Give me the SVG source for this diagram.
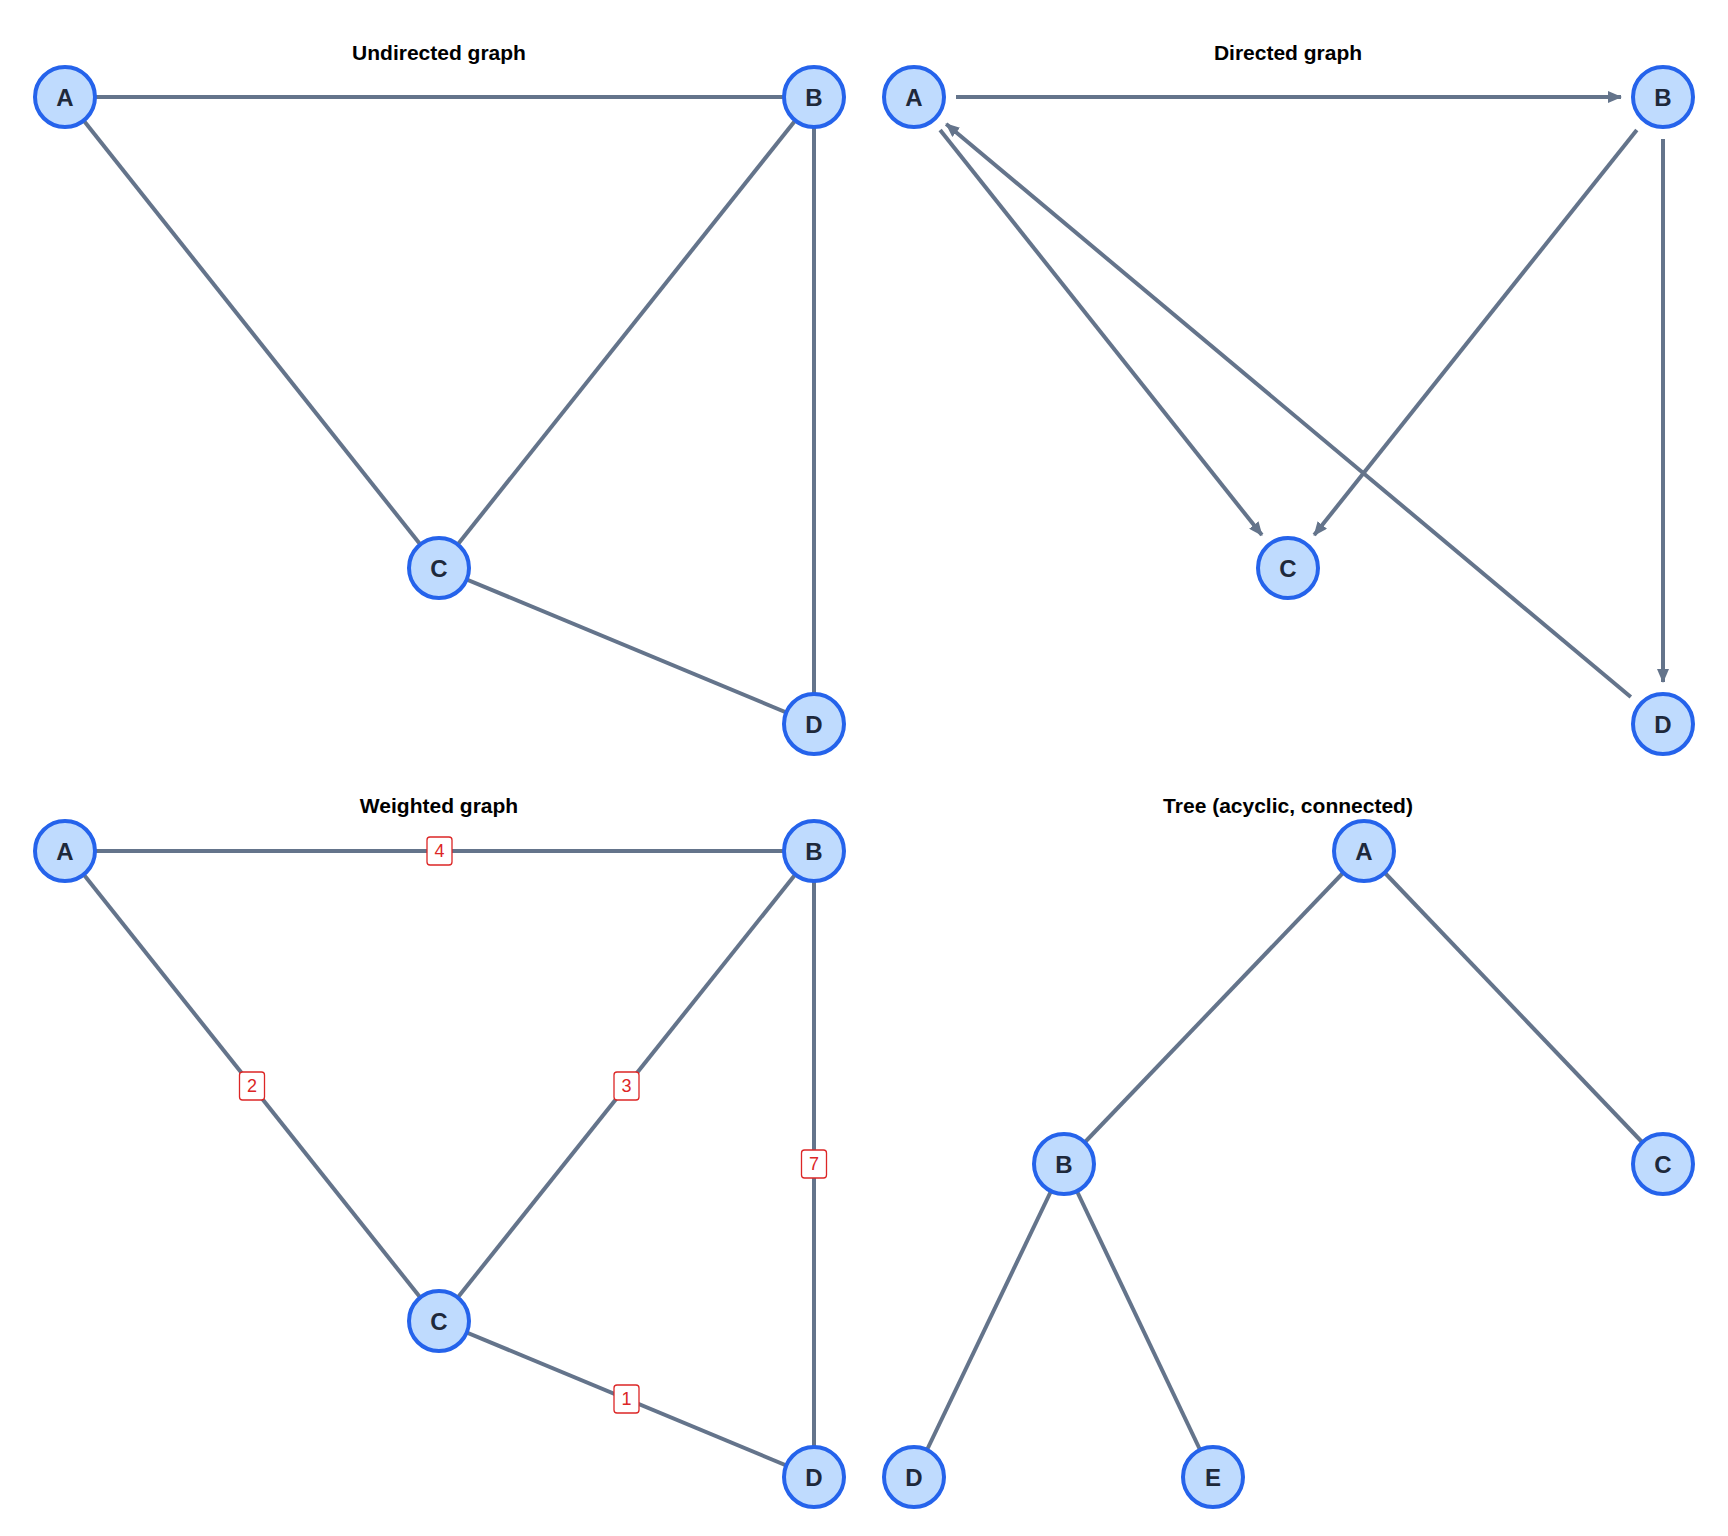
<svg xmlns="http://www.w3.org/2000/svg" width="1728" height="1536" viewBox="0 0 1728 1536">
<style>
.e{stroke:#64748b;stroke-width:4;fill:none}
.n circle{fill:#bfdbfe;stroke:#2563eb;stroke-width:4}
.n text{font-family:"Liberation Sans",Arial,sans-serif;font-weight:bold;font-size:24px;fill:#1e293b;text-anchor:middle;dominant-baseline:central}
.t{font-family:"Liberation Sans",Arial,sans-serif;font-weight:bold;font-size:21px;fill:#000;text-anchor:middle}
.w rect{fill:#fff;stroke:#dc2626;stroke-width:1.3}
.w text{font-family:"Liberation Sans",Arial,sans-serif;font-size:18px;fill:#dc2626;text-anchor:middle;dominant-baseline:central}
</style>
<defs>
<marker id="ar" markerUnits="userSpaceOnUse" markerWidth="14" markerHeight="12" refX="13" refY="6" orient="auto"><path d="M0,0 L14,6 L0,12 z" fill="#64748b"/></marker>
</defs>
<rect width="1728" height="1536" fill="#fff"/>
<g id="titles">
<text class="t" x="439" y="60">Undirected graph</text>
<text class="t" x="1288" y="60">Directed graph</text>
<text class="t" x="439" y="813">Weighted graph</text>
<text class="t" x="1288" y="813">Tree (acyclic, connected)</text>
</g>
<g id="connectors">
<line class="e" x1="65" y1="97" x2="814" y2="97"/>
<line class="e" x1="65" y1="97" x2="439" y2="568"/>
<line class="e" x1="814" y1="97" x2="439" y2="568"/>
<line class="e" x1="814" y1="97" x2="814" y2="724"/>
<line class="e" x1="439" y1="568" x2="814" y2="724"/>
<line class="e" x1="956" y1="97" x2="1621" y2="97" marker-end="url(#ar)"/>
<line class="e" x1="940.1" y1="129.9" x2="1261.9" y2="535.1" marker-end="url(#ar)"/>
<line class="e" x1="1636.8" y1="129.9" x2="1314.2" y2="535.1" marker-end="url(#ar)"/>
<line class="e" x1="1663" y1="139" x2="1663" y2="682" marker-end="url(#ar)"/>
<line class="e" x1="1630.8" y1="697" x2="946.2" y2="124" marker-end="url(#ar)"/>
<line class="e" x1="65" y1="851" x2="814" y2="851"/>
<line class="e" x1="65" y1="851" x2="439" y2="1321"/>
<line class="e" x1="814" y1="851" x2="439" y2="1321"/>
<line class="e" x1="814" y1="851" x2="814" y2="1477"/>
<line class="e" x1="439" y1="1321" x2="814" y2="1477"/>
<line class="e" x1="1364" y1="851" x2="1064" y2="1164"/>
<line class="e" x1="1364" y1="851" x2="1663" y2="1164"/>
<line class="e" x1="1064" y1="1164" x2="914" y2="1477"/>
<line class="e" x1="1064" y1="1164" x2="1213" y2="1477"/>
</g>
<g id="weights">
<g class="w"><rect x="427" y="837" width="25" height="28" rx="3"/><text x="439.5" y="851">4</text></g>
<g class="w"><rect x="239.5" y="1072" width="25" height="28" rx="3"/><text x="252" y="1086">2</text></g>
<g class="w"><rect x="614" y="1072" width="25" height="28" rx="3"/><text x="626.5" y="1086">3</text></g>
<g class="w"><rect x="801.5" y="1150" width="25" height="28" rx="3"/><text x="814" y="1164">7</text></g>
<g class="w"><rect x="614" y="1385" width="25" height="28" rx="3"/><text x="626.5" y="1399">1</text></g>
</g>
<g id="u-A" class="n"><circle cx="65" cy="97" r="30"/><text x="65" y="97">A</text></g>
<g id="u-B" class="n"><circle cx="814" cy="97" r="30"/><text x="814" y="97">B</text></g>
<g id="u-C" class="n"><circle cx="439" cy="568" r="30"/><text x="439" y="568">C</text></g>
<g id="u-D" class="n"><circle cx="814" cy="724" r="30"/><text x="814" y="724">D</text></g>
<g id="d-A" class="n"><circle cx="914" cy="97" r="30"/><text x="914" y="97">A</text></g>
<g id="d-B" class="n"><circle cx="1663" cy="97" r="30"/><text x="1663" y="97">B</text></g>
<g id="d-C" class="n"><circle cx="1288" cy="568" r="30"/><text x="1288" y="568">C</text></g>
<g id="d-D" class="n"><circle cx="1663" cy="724" r="30"/><text x="1663" y="724">D</text></g>
<g id="w-A" class="n"><circle cx="65" cy="851" r="30"/><text x="65" y="851">A</text></g>
<g id="w-B" class="n"><circle cx="814" cy="851" r="30"/><text x="814" y="851">B</text></g>
<g id="w-C" class="n"><circle cx="439" cy="1321" r="30"/><text x="439" y="1321">C</text></g>
<g id="w-D" class="n"><circle cx="814" cy="1477" r="30"/><text x="814" y="1477">D</text></g>
<g id="t-A" class="n"><circle cx="1364" cy="851" r="30"/><text x="1364" y="851">A</text></g>
<g id="t-B" class="n"><circle cx="1064" cy="1164" r="30"/><text x="1064" y="1164">B</text></g>
<g id="t-C" class="n"><circle cx="1663" cy="1164" r="30"/><text x="1663" y="1164">C</text></g>
<g id="t-D" class="n"><circle cx="914" cy="1477" r="30"/><text x="914" y="1477">D</text></g>
<g id="t-E" class="n"><circle cx="1213" cy="1477" r="30"/><text x="1213" y="1477">E</text></g>
</svg>
